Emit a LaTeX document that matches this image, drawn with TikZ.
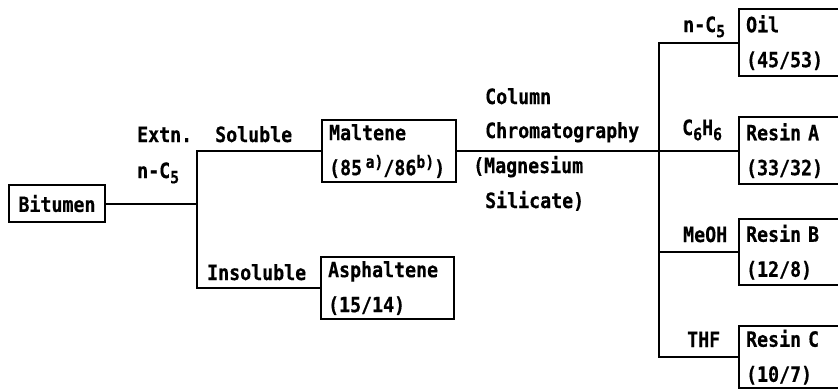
\documentclass[tikz,border=0pt]{standalone}
\usepackage{fontspec}
\setmainfont{DejaVu Sans Mono}[FakeStretch=0.87, BoldFeatures={FakeBold=0.4}]
% lowered subscript and raised footnote marks in the typewriter face
\newcommand\lowfig[1]{\raisebox{-0.25em}{\fontsize{17}{17}\selectfont #1}}
\newcommand\highfig[1]{\raisebox{0.35em}{\fontsize{17}{17}\selectfont #1}}
\tikzset{
  every node/.style={font=\bfseries\fontsize{21}{35}\selectfont},
  wire/.style={line width=2pt},
  box/.style={draw, line width=2.2pt, align=left, anchor=north west,
              inner xsep=7pt, inner ysep=0pt},
  lbl/.style={anchor=base west, inner sep=0pt},
}
\begin{document}
\begin{tikzpicture}[x=1pt, y=-1pt]
\useasboundingbox (0,0) rectangle (838,389);
\clip (0,0) rectangle (838,389);

% feed
\node[draw, line width=2.2pt, minimum width=96pt, minimum height=37pt,
      inner sep=0pt] (bit) at (57,203.5) {Bitumen};

% pentane extraction
\node[box, text width=120pt, minimum height=62pt] (malt) at (321,119)
  {Maltene\\(85\,\highfig{a)}/86\highfig{b)})};
\node[box, text width=119pt, minimum height=62pt] (asph) at (320,256)
  {Asphaltene\\(15/14)};

% chromatographic fractions
\node[box, text width=118pt, minimum height=67pt] (oil)  at (738,8)
  {Oil\\(45/53)};
\node[box, text width=118pt, minimum height=67pt] (resA) at (738,116)
  {Resin A\\(33/32)};
\node[box, text width=118pt, minimum height=66pt] (resB) at (738,218)
  {Resin B\\(12/8)};
\node[box, text width=118pt, minimum height=62pt] (resC) at (738,325)
  {Resin C\\(10/7)};

% branch points
\coordinate (jA) at (197,0);
\coordinate (jB) at (659,0);

% connectors
\draw[wire] (bit.east) -- (bit.east -| jA);
\draw[wire] (malt.west) -| (jA |- asph.west) -- (asph.west);
\draw[wire] (malt.east) -- (malt.east -| jB);
\draw[wire] (oil.west) -| (jB |- resC.west) -- (resC.west);
\draw[wire] (resA.west) -- (resA.west -| jB);
\draw[wire] (resB.west) -- (resB.west -| jB);

% step labels
\node[lbl] (extn)  at (137,142) {Extn.};
\node[lbl] (nc5a)  at (137,178) {n-C\lowfig{5}};
\node[lbl] (sol)   at (215,142) {Soluble};
\node[lbl] (insol) at (207,280) {Insoluble};

\node[lbl] (col)   at (485,104) {Column};
\node[lbl] (chrom) at (485,138) {Chromatography};
\node[lbl] (mag)   at (473,173) {(Magnesium};
\node[lbl] (sil)   at (485,208) {Silicate)};

% eluents
\node[lbl] (nc5b)  at (683,32)  {n-C\lowfig{5}};
\node[lbl] (benz)  at (682,135) {C\lowfig{6}H\lowfig{6}};
\node[lbl] (meoh)  at (683,242) {MeOH};
\node[lbl] (thf)   at (687,347) {THF};
\end{tikzpicture}
\end{document}
